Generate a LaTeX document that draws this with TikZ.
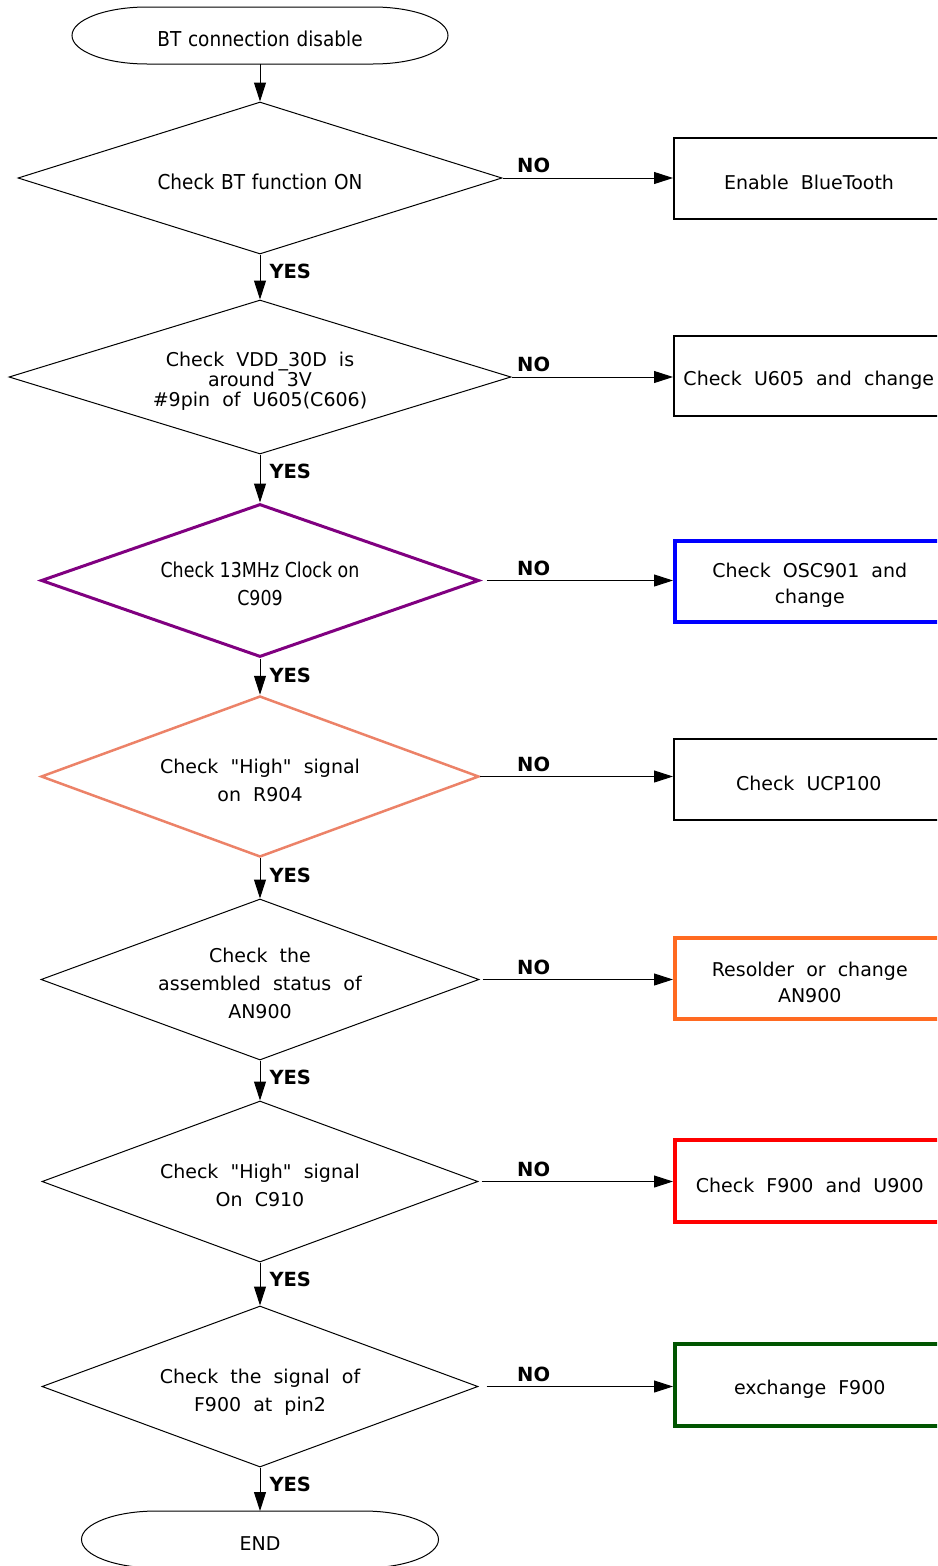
\documentclass[tikz,border=0pt]{standalone}
\usepackage{fontspec}
\setmainfont{DejaVu Sans}[WordSpace=2]
\newfontfamily\narrowfont{DejaVu Sans}[FakeStretch=0.9, WordSpace=1.15, Scale=1.08]
\newfontfamily\tightfont{DejaVu Sans}[FakeStretch=0.85, Scale=1.08]
\usetikzlibrary{shapes.geometric, arrows.meta}
\definecolor{dpurple}{RGB}{128,0,128}
\definecolor{salmonc}{RGB}{236,130,104}
\definecolor{oboxc}{RGB}{255,106,33}
\definecolor{gboxc}{RGB}{0,85,0}
\newcommand\sd{\rule{0pt}{22.5pt}}
\newcommand\qq{\textquotedbl}
\begin{document}
\begin{tikzpicture}[x=1pt,y=1pt,
  txt/.style={font=\fontsize{19}{28}\selectfont, align=center},
  dec/.style={shape=diamond, draw, line width=1pt, inner sep=0pt, txt},
  box/.style={rectangle, draw, line width=1.5pt, minimum width=270, minimum height=81, anchor=west, inner sep=0pt, txt, font=\fontsize{19}{26}\selectfont},
  term/.style={rectangle, inner sep=0pt, outer sep=0pt, txt},
  arr/.style={line width=1pt, -{Triangle[length=19pt,width=12pt]}},
  lbl/.style={font=\bfseries\fontsize{19.5}{20}\selectfont, inner sep=0pt},
  yes/.style={lbl, anchor=north west, at start, xshift=9pt, yshift=-9pt},
]
\useasboundingbox (0,0) rectangle (937,-1566);
\clip (0,0) rectangle (937,-1566);

% start terminal
\node[term, minimum width=376, minimum height=57] (s) at (260,-35.5) {\narrowfont\sd BT connection disable};
\draw[line width=1pt] ([xshift=75]s.north west) -- ([xshift=-75]s.north east)
  arc[start angle=90, end angle=-90, x radius=75, y radius=28.5]
  -- ([xshift=75]s.south west)
  arc[start angle=270, end angle=90, x radius=75, y radius=28.5] -- cycle;

% decisions
\node[dec, aspect=3.18, minimum width=484, minimum height=152] (d1) at (260,-178) {\narrowfont\sd Check BT function ON};
\node[dec, aspect=3.26, minimum width=502, minimum height=154, font=\fontsize{19}{20}\selectfont] (d2) at (260,-377) {\sd Check VDD\_30D is\\around 3V\\\#9pin of U605(C606)};
\node[dec, aspect=2.86, minimum width=438, minimum height=153, draw=dpurple, line width=3pt] (d3) at (260,-580.5) {\tightfont\sd Check 13MHz Clock on\\\tightfont C909};
\node[dec, aspect=2.72, minimum width=438, minimum height=161, draw=salmonc, line width=2.5pt] (d4) at (260,-776.5) {\sd Check \qq High\qq{} signal\\on R904};
\node[dec, aspect=2.72, minimum width=438, minimum height=161] (d5) at (260,-979.5) {\sd Check the\\assembled status of\\AN900};
\node[dec, aspect=2.71, minimum width=436, minimum height=161] (d6) at (260,-1181.5) {\sd Check \qq High\qq{} signal\\On C910};
\node[dec, aspect=2.71, minimum width=436, minimum height=161] (d7) at (260,-1386.5) {\rule{0pt}{25pt}Check the signal of\\F900 at pin2};

% end terminal
\node[term, minimum width=357, minimum height=57] (e) at (260,-1539.5) {\sd END};
\draw[line width=1pt] ([xshift=75]e.north west) -- ([xshift=-75]e.north east)
  arc[start angle=90, end angle=-90, x radius=75, y radius=28.5]
  -- ([xshift=75]e.south west)
  arc[start angle=270, end angle=90, x radius=75, y radius=28.5] -- cycle;

% boxes
\node[box, line width=2pt, minimum height=81] (b1) at (673,-178.5) {\sd Enable BlueTooth};
\node[box, minimum height=80] (b2) at (673,-376) {\sd Check U605 and change};
\node[box, draw=blue, line width=3.5pt] (b3) at (673,-581.5) {\sd Check OSC901 and\\change};
\node[box] (b4) at (673,-779.5) {\sd Check UCP100};
\node[box, draw=oboxc, line width=3.5pt] (b5) at (673,-978.5) {\sd Resolder or change\\AN900};
\node[box, draw=red, line width=3.5pt, minimum height=82] (b6) at (673,-1181) {\sd Check F900 and U900};
\node[box, draw=gboxc, line width=3.5pt, minimum height=82] (b7) at (673,-1385) {\sd exchange F900};

% vertical connectors
\draw[arr] (s.south) -- (d1.north);
\draw[arr] (d1.south) -- node[yes] {YES} (d2.north);
\draw[arr] (d2.south) -- node[yes] {YES} (d3.north);
\draw[arr] (d3.south) -- node[yes] {YES} (d4.north);
\draw[arr] (d4.south) -- node[yes] {YES} (d5.north);
\draw[arr] (d5.south) -- node[yes] {YES} (d6.north);
\draw[arr] (d6.south) -- node[yes] {YES} (d7.north);
\draw[arr] (d7.south) -- node[yes] {YES} (e.north);

% horizontal connectors
\draw[arr] (d1.east) -- (d1.east -| b1.west);
\draw[arr] (d2.east) -- (d2.east -| b2.west);
\draw[arr] ([xshift=6pt]d3.east) -- (d3.east -| b3.west);
\draw[arr] (d4.east) -- (d4.east -| b4.west);
\draw[arr] ([xshift=3pt]d5.east) -- (d5.east -| b5.west);
\draw[arr] ([xshift=3pt]d6.east) -- (d6.east -| b6.west);
\draw[arr] ([xshift=8pt]d7.east) -- (d7.east -| b7.west);

% NO labels
\node[lbl, anchor=south west] (n1) at (517,-173) {NO};
\node[lbl, anchor=south west] (n2) at (517,-372) {NO};
\node[lbl, anchor=south west] (n3) at (517,-575.5) {NO};
\node[lbl, anchor=south west] (n4) at (517,-771.5) {NO};
\node[lbl, anchor=south west] (n5) at (517,-974.5) {NO};
\node[lbl, anchor=south west] (n6) at (517,-1176.5) {NO};
\node[lbl, anchor=south west] (n7) at (517,-1381.5) {NO};
\end{tikzpicture}
\end{document}
